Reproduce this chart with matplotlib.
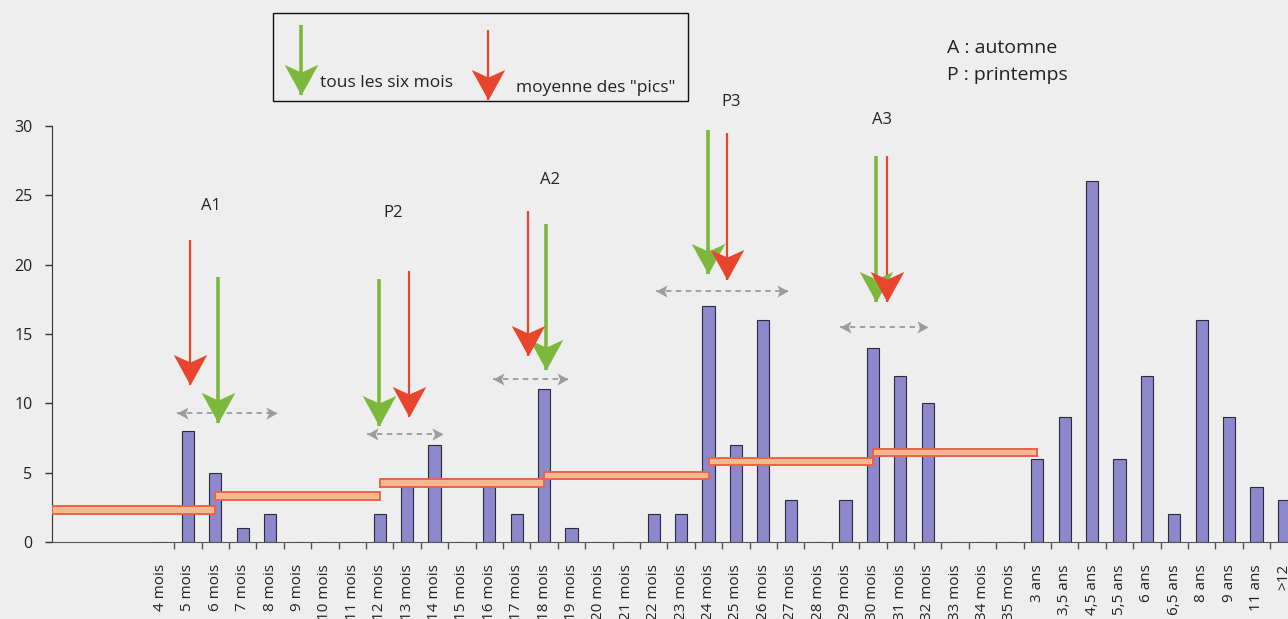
import matplotlib

matplotlib.use("Agg")
import matplotlib.pyplot as plt
import numpy as np
from matplotlib.patches import Rectangle
from matplotlib.path import Path

plt.rcParams["font.family"] = ["Open Sans", "DejaVu Sans"]

# Catégories (âge) et effectifs
categories = (
    [f"{m} mois" for m in range(4, 36)]
    + ["3 ans", "3,5 ans", "4,5 ans", "5,5 ans", "6 ans", "6,5 ans",
       "8 ans", "9 ans", "11 ans", ">12"]
)
effectifs = [
    0, 8, 5, 1, 2, 0, 0, 0, 2, 4, 7, 0, 4, 2, 11, 1,
    0, 0, 2, 2, 17, 7, 16, 3, 0, 3, 14, 12, 10, 0, 0, 0,
    6, 9, 26, 6, 12, 2, 16, 9, 4, 3,
]

# Moyennes par semestre (paliers orange)
palier_debut = [None, "6 mois", "12 mois", "18 mois", "24 mois", "30 mois"]
palier_fin = ["6 mois", "12 mois", "18 mois", "24 mois", "30 mois", "3 ans"]
palier_niveau = [2.3, 3.3, 4.25, 4.8, 5.8, 6.45]

# Annotations saisonnières : (label, x, y), flèche verte, flèche rouge, intervalle
saisons = ["A1", "P2", "A2", "P3", "A3"]
saison_label_x = [1.84, 8.48, 14.21, 20.84, 26.34]
saison_label_y = [24.2, 23.7, 26.1, 31.7, 30.4]
vert_x = [2.08, 7.98, 14.07, 19.99, 26.1]
vert_haut = [19.1, 19.0, 22.9, 29.7, 27.8]
vert_bas = [8.56, 8.4, 12.4, 19.3, 17.3]
rouge_x = [1.07, 9.08, 13.4, 20.66, 26.5]
rouge_haut = [21.8, 19.56, 23.9, 29.5, 27.8]
rouge_bas = [11.3, 9.0, 13.4, 18.9, 17.3]
intervalle_y = [9.28, 7.8, 11.75, 18.1, 15.5]
intervalle_de = [0.59, 7.53, 12.12, 18.08, 24.8]
intervalle_a = [4.24, 10.31, 14.88, 22.91, 28.02]

VERT = "#7bb83b"
ROUGE = "#e8452f"
GRIS = "#9c9c9c"
FOND = "#eeeeee"

# tête de flèche échancrée, pointe à l'origine, orientée vers le bas
TETE_BAS = Path([(0, 0), (0.55, 1), (0, 0.75), (-0.55, 1), (0, 0)],
                [Path.MOVETO, Path.LINETO, Path.LINETO, Path.LINETO, Path.CLOSEPOLY])
TETE_GAUCHE = Path([(0, 0), (1, 0.55), (0.75, 0), (1, -0.55), (0, 0)],
                   [Path.MOVETO, Path.LINETO, Path.LINETO, Path.LINETO, Path.CLOSEPOLY])
TETE_DROITE = Path([(0, 0), (-1, 0.55), (-0.75, 0), (-1, -0.55), (0, 0)],
                   [Path.MOVETO, Path.LINETO, Path.LINETO, Path.LINETO, Path.CLOSEPOLY])


def fleche(ax, x, haut, bas, couleur, lw, **kw):
    ax.plot([x, x], [haut, bas], color=couleur, lw=lw, solid_capstyle="butt", zorder=5, **kw)
    ax.plot([x], [bas], marker=TETE_BAS, markersize=44, color=couleur,
            markeredgewidth=0, linestyle="none", zorder=6, **kw)


fig = plt.figure(figsize=(12.88, 6.19), dpi=100, facecolor=FOND)
ax = fig.add_axes([0.0404, 0.1244, 0.9596, 0.6721])
ax.set_facecolor(FOND)

x = np.arange(len(categories))
pos = dict(zip(categories, x))
ax.bar(x, effectifs, width=0.45, color="#8d88cb", edgecolor="#2a2a3a", linewidth=0.8, zorder=2)

xmin, xmax = -3.96, 41.15
ax.set_xlim(xmin, xmax)
ax.set_ylim(0, 30)

for deb, fin, niv in zip(palier_debut, palier_fin, palier_niveau):
    x0 = xmin if deb is None else pos[deb]
    ax.add_patch(Rectangle((x0, niv - 0.28), pos[fin] - x0, 0.56,
                           facecolor="#f5b88f", edgecolor="#ec6248", linewidth=1.4, zorder=3))

for i, lab in enumerate(saisons):
    ax.text(saison_label_x[i], saison_label_y[i], lab, fontsize=12, ha="center", va="center",
            color="#222222", clip_on=False)
    fleche(ax, vert_x[i], vert_haut[i], vert_bas[i], VERT, 2.6)
    fleche(ax, rouge_x[i], rouge_haut[i], rouge_bas[i], ROUGE, 1.6)
    ax.plot([intervalle_de[i], intervalle_a[i]], [intervalle_y[i]] * 2, color=GRIS, lw=1.3,
            dashes=(3, 2.5), zorder=4)
    ax.plot([intervalle_de[i]], [intervalle_y[i]], marker=TETE_GAUCHE, markersize=16,
            color=GRIS, markeredgewidth=0, linestyle="none", zorder=4)
    ax.plot([intervalle_a[i]], [intervalle_y[i]], marker=TETE_DROITE, markersize=16,
            color=GRIS, markeredgewidth=0, linestyle="none", zorder=4)

# axes
ax.spines["top"].set_visible(False)
ax.spines["right"].set_visible(False)
ax.spines["left"].set_color("#333333")
ax.spines["bottom"].set_color("#555555")
ax.set_yticks(range(0, 31, 5))
ax.tick_params(axis="y", length=5, width=1, color="#333333", pad=9, labelsize=11.5,
               labelcolor="#222222")
ax.set_xticks(x)
ax.set_xticklabels(categories, rotation=90, fontsize=11, color="#222222")
ax.set_xticks(x[:-1] + 0.5, minor=True)
ax.tick_params(axis="x", which="major", length=0, pad=16)
ax.tick_params(axis="x", which="minor", length=5, width=1, color="#555555")

# légende et textes en coordonnées pixels
ov = fig.add_axes([0, 0, 1, 1], facecolor="none")
ov.set_xlim(0, 1288)
ov.set_ylim(619, 0)
ov.axis("off")
ov.add_patch(Rectangle((273, 13), 415, 88, facecolor="none", edgecolor="#111111", linewidth=1))
fleche(ov, 301, 25, 95, VERT, 2.6)
fleche(ov, 488, 30, 100, ROUGE, 1.6)
ov.text(320, 83, "tous les six mois", fontsize=12.5, va="center", ha="left", color="#222222")
ov.text(516, 88, 'moyenne des "pics"', fontsize=12.5, va="center", ha="left", color="#222222")
ov.text(947, 48, "A : automne", fontsize=14, va="center", ha="left", color="#222222")
ov.text(947, 75, "P : printemps", fontsize=14, va="center", ha="left", color="#222222")

fig.savefig("out.png", dpi=100, facecolor=FOND)
